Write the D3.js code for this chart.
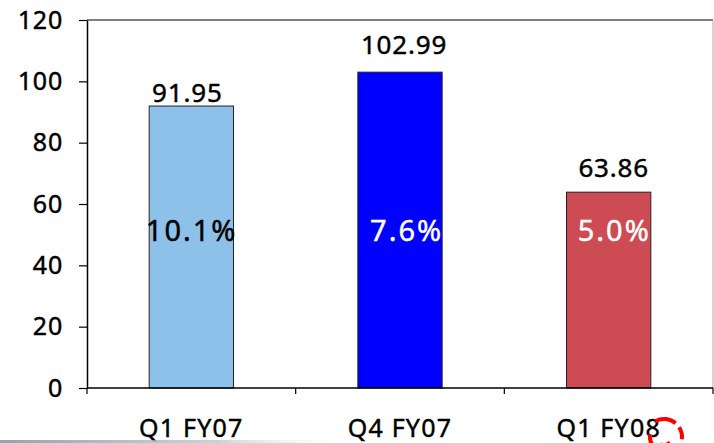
<!DOCTYPE html>
<html>
<head>
<meta charset="utf-8">
<script src="https://cdn.jsdelivr.net/npm/d3@7"></script>
<style>
  html, body { margin: 0; padding: 0; background: #fff; }
  svg { display: block; font-family: "Noto Sans", "DejaVu Sans", sans-serif; }
  svg text { stroke-width: 0.45px; paint-order: stroke; }
</style>
</head>
<body>
<svg id="chart" width="714" height="443"></svg>
<script>
// Quarterly figures
const categories = ["Q1 FY07", "Q4 FY07", "Q1 FY08"];
const values = [91.95, 102.99, 63.86];
const growthLabels = ["10.1%", "7.6%", "5.0%"];
const barColors = ["#8ec1ea", "#0000ff", "#cd4b53"];
const growthColors = ["#000000", "#ffffff", "#ffffff"];
const yTicks = [0, 20, 40, 60, 80, 100, 120];

const svg = d3.select("#chart");
const plot = { left: 87, right: 713, top: 20, bottom: 388 };

const x = d3.scaleBand()
  .domain(categories)
  .range([plot.left, plot.right])
  .paddingInner(0)
  .paddingOuter(0);

const y = d3.scaleLinear()
  .domain([0, 120])
  .range([plot.bottom, plot.top]);

const barW = x.bandwidth() * 0.404;
const cx = i => x(categories[i]) + x.bandwidth() / 2;

// plot frame: top and right edges
svg.append("line")
  .attr("x1", plot.left).attr("x2", plot.right)
  .attr("y1", y(120)).attr("y2", y(120))
  .attr("stroke", "#555").attr("stroke-width", 1.5);
svg.append("line")
  .attr("x1", plot.right).attr("x2", plot.right)
  .attr("y1", y(120)).attr("y2", y(0))
  .attr("stroke", "#aaa").attr("stroke-width", 1);

// bars
svg.selectAll("rect.bar")
  .data(values)
  .join("rect")
  .attr("class", "bar")
  .attr("x", (d, i) => cx(i) - barW / 2)
  .attr("y", d => y(d))
  .attr("width", barW)
  .attr("height", d => y(0) - y(d))
  .attr("fill", (d, i) => barColors[i])
  .attr("stroke", "#222")
  .attr("stroke-width", 1);

// value labels above bars
svg.selectAll("text.val")
  .data(values)
  .join("text")
  .attr("class", "val")
  .attr("x", (d, i) => cx(i) + [-4, 4, 5][i])
  .attr("y", (d, i) => y(d) - [4, 18, 15][i])
  .attr("text-anchor", "middle")
  .attr("font-size", 26)
  .attr("letter-spacing", 0.8)
  .attr("fill", "#000").attr("stroke", "#000")
  .text(d => d.toFixed(2));

// growth labels inside bars
svg.selectAll("text.growth")
  .data(growthLabels)
  .join("text")
  .attr("class", "growth")
  .attr("x", (d, i) => cx(i) + barW / 2 + [4, 1, 0][i])
  .attr("y", 241)
  .attr("text-anchor", "end")
  .attr("font-size", 29)
  .attr("letter-spacing", 2)
  .attr("fill", (d, i) => growthColors[i])
  .attr("stroke", (d, i) => growthColors[i])
  .text(d => d);

// y axis
const yAxis = svg.append("g")
  .attr("transform", `translate(${plot.left},0)`)
  .call(d3.axisLeft(y).tickValues(yTicks).tickSize(8).tickPadding(16).tickSizeOuter(0));
yAxis.select(".domain").attr("stroke", "#000").attr("stroke-width", 1.5);
yAxis.selectAll(".tick line").attr("stroke", "#000").attr("stroke-width", 1.2);
yAxis.selectAll(".tick text")
  .attr("font-size", 25)
  .attr("letter-spacing", 0.8)
  .attr("font-family", "Noto Sans, DejaVu Sans, sans-serif")
  .attr("fill", "#000").attr("stroke", "#000");

// x axis with ticks at category boundaries
const xAxis = svg.append("g")
  .attr("transform", `translate(0,${plot.bottom})`);
xAxis.append("line")
  .attr("x1", plot.left).attr("x2", plot.right)
  .attr("stroke", "#000").attr("stroke-width", 1.5);
const bounds = categories.map(c => x(c)).concat([x(categories[categories.length - 1]) + x.bandwidth()]);
xAxis.selectAll("line.tk")
  .data(bounds)
  .join("line")
  .attr("class", "tk")
  .attr("x1", d => d).attr("x2", d => d)
  .attr("y1", 0).attr("y2", 6)
  .attr("stroke", "#000").attr("stroke-width", 1.2);
xAxis.selectAll("text.cat")
  .data(categories)
  .join("text")
  .attr("class", "cat")
  .attr("x", d => x(d) + x.bandwidth() / 2)
  .attr("y", 49)
  .attr("text-anchor", "middle")
  .attr("font-size", 25)
  .attr("letter-spacing", 1.2)
  .attr("fill", "#000").attr("stroke", "#000")
  .text(d => d);

// soft grey rule along the bottom edge
const defs = svg.append("defs");
const grad = defs.append("linearGradient").attr("id", "fade").attr("x1", 0).attr("x2", 1);
grad.append("stop").attr("offset", 0).attr("stop-color", "#9aa0a8").attr("stop-opacity", 1);
grad.append("stop").attr("offset", 0.6).attr("stop-color", "#b8bcc2").attr("stop-opacity", 0.7);
grad.append("stop").attr("offset", 1).attr("stop-color", "#ffffff").attr("stop-opacity", 0);
svg.append("rect")
  .attr("x", 0).attr("y", 440).attr("width", 360).attr("height", 3)
  .attr("fill", "url(#fade)");

// red swirl emblem in the corner
const swirl = svg.append("g").attr("transform", "translate(664,437)")
  .attr("fill", "none").attr("stroke", "#f00").attr("stroke-width", 4).attr("stroke-linecap", "round");
swirl.append("path").attr("d", d3.arc()({ innerRadius: 18, outerRadius: 18, startAngle: -0.5, endAngle: 0.7 }));
swirl.append("path").attr("d", d3.arc()({ innerRadius: 18, outerRadius: 18, startAngle: 1.0, endAngle: 1.7 }));
swirl.append("path").attr("d", d3.arc()({ innerRadius: 14, outerRadius: 14, startAngle: 3.9, endAngle: 4.9 }));
swirl.append("path").attr("d", d3.arc()({ innerRadius: 8, outerRadius: 8, startAngle: 2.3, endAngle: 3.6 }));
</script>
</body>
</html>
